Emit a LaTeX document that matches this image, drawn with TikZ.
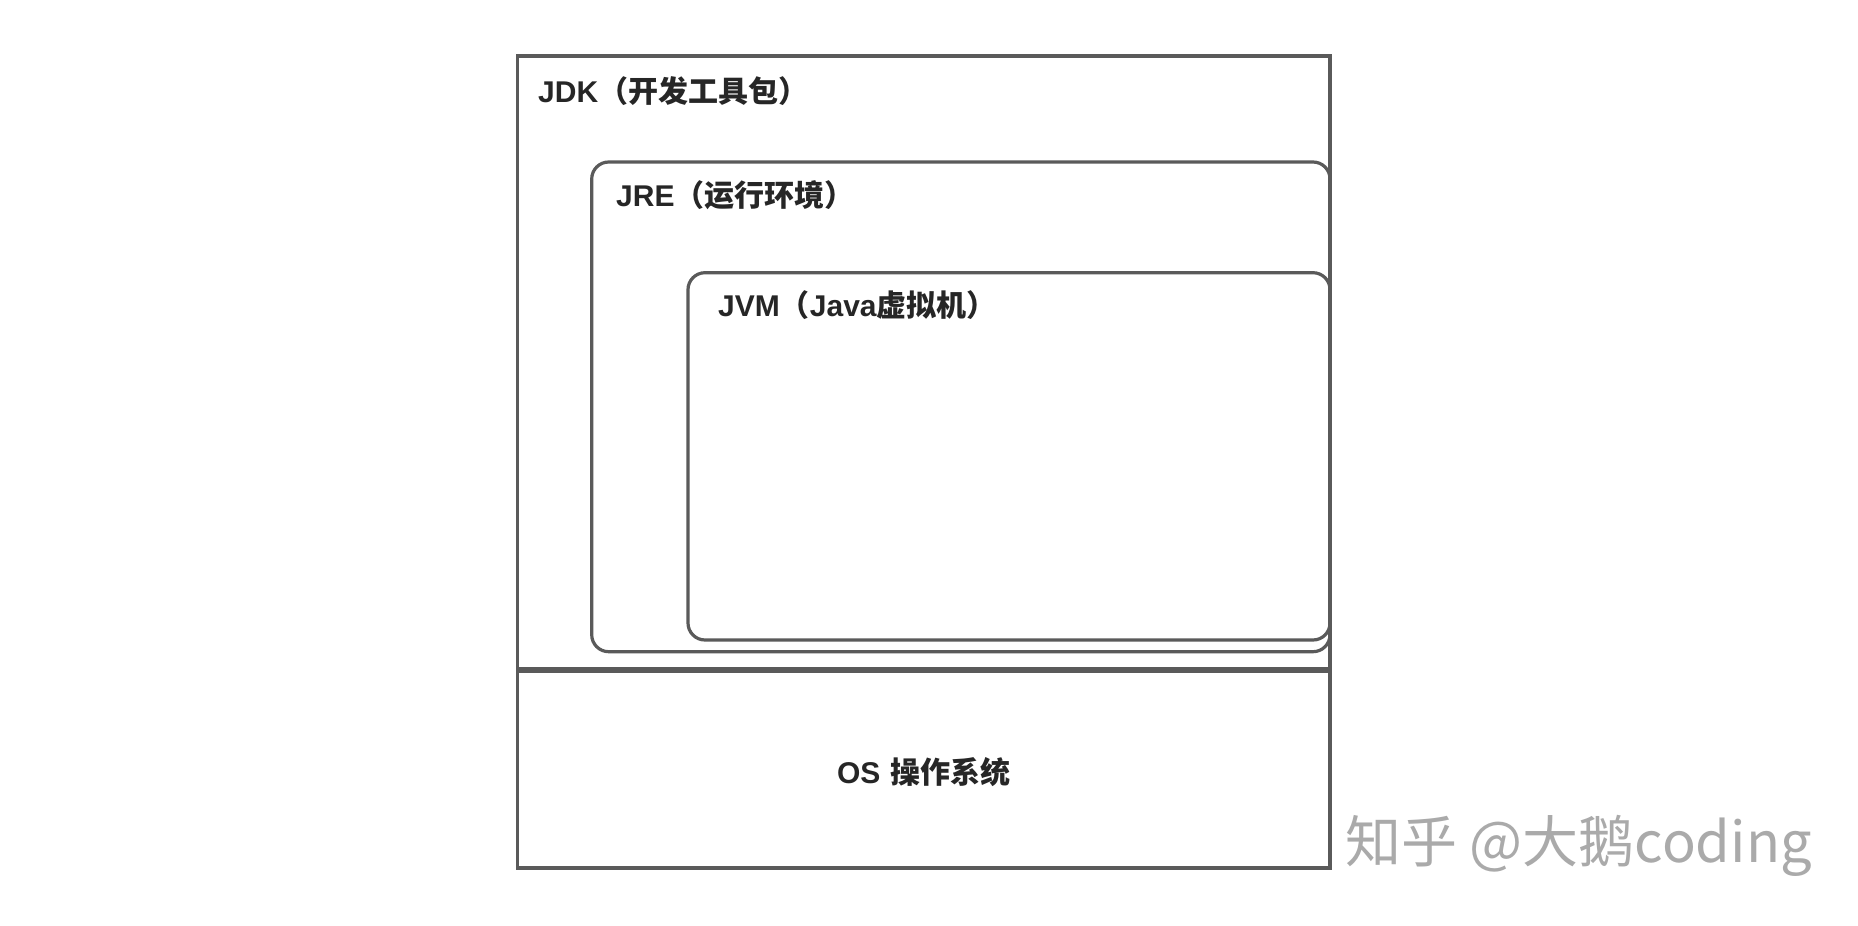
\documentclass[tikz,border=0pt]{standalone}
\usepackage{fontspec}
\setmainfont{Liberation Sans}
\newfontfamily\cjk{Noto Sans CJK SC}
\definecolor{linegray}{HTML}{5A5A5A}
\definecolor{textdark}{HTML}{262626}
\definecolor{wmgray}{HTML}{AAAAAA}
\tikzset{
  outerbox/.style={draw=linegray, line width=3.5pt, inner sep=0pt, outer sep=0pt, anchor=north west},
  innerbox/.style={draw=linegray, line width=3.2pt, inner sep=0pt, outer sep=0pt, anchor=north west, rounded corners=17pt},
  lbl/.style={text=textdark, inner sep=0pt, font=\fontsize{30}{36}\selectfont\bfseries},
  wm/.style={text=wmgray, inner sep=0pt, anchor=base west, font=\cjk\fontsize{56}{62}\selectfont}
}
\begin{document}
\begin{tikzpicture}[x=1pt,y=-1pt]
\useasboundingbox (0,0) rectangle (1858,926);
\fill[white] (0,0) rectangle (1858,926);
% boxes
\node[outerbox, minimum width=812.5pt, minimum height=612.5pt] (jdk) at (517.5,56) {};
\node[outerbox, minimum width=812.5pt, minimum height=196.5pt] (os) at (517.5,671.5) {};
\node[innerbox, minimum width=738.3pt, minimum height=489.7pt] (jre) at (591.7,162) {};
\node[innerbox, minimum width=642pt, minimum height=367.3pt] (jvm) at (688,272.7) {};
% labels
\node[lbl, anchor=base west] (jdkl) at (538,102) {JDK{\cjk （开发工具包）}};
\node[lbl, anchor=base west] (jrel) at (616,206) {JRE{\cjk （运行环境）}};
\node[lbl, anchor=base west] (jvml) at (718,316) {JVM{\cjk （}Java{\cjk 虚拟机）}};
\node[lbl, anchor=base] (osl) at (924,783) {OS\hspace{0.35em}{\cjk 操作系统}};
% watermark
\node[wm] (wmark) at (1345,862) {知乎 @大鹅coding};
\end{tikzpicture}
\end{document}
